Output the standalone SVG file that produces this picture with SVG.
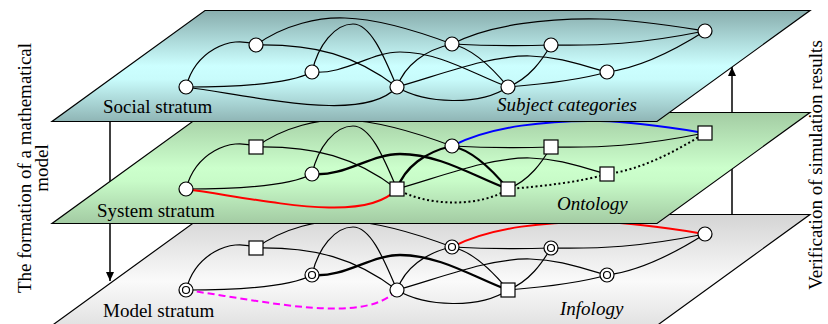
<svg xmlns="http://www.w3.org/2000/svg" width="828" height="324" viewBox="0 0 828 324">
<style>
.plane{stroke:#000;stroke-width:1.2}
.e{fill:none;stroke:#000;stroke-width:1.2}
.b{fill:none;stroke:#000;stroke-width:2.3}
.red{fill:none;stroke:#f00;stroke-width:2}
.blue{fill:none;stroke:#00f;stroke-width:2}
.dot{fill:none;stroke:#000;stroke-width:2;stroke-dasharray:2 2.6}
.mag{fill:none;stroke:#f0f;stroke-width:2;stroke-dasharray:7 4}
.n{fill:#fff;stroke:#000;stroke-width:1.2}
.t{font-family:"Liberation Serif","Times New Roman",serif;font-size:19px;fill:#000}
.i{font-style:italic}
.arr{stroke:#000;stroke-width:1.5}
</style>
<defs>
<linearGradient id="gSocial" x1="0" y1="0" x2="0" y2="1">
<stop offset="0" stop-color="#88adad"/>
<stop offset="0.5" stop-color="#ccffff"/>
<stop offset="0.62" stop-color="#c8fbfb"/>
<stop offset="1" stop-color="#8fb5b5"/>
</linearGradient>
<linearGradient id="gSystem" x1="0" y1="0" x2="0" y2="1">
<stop offset="0" stop-color="#a3cca3"/>
<stop offset="0.5" stop-color="#ccffcc"/>
<stop offset="0.62" stop-color="#c8fbc8"/>
<stop offset="1" stop-color="#a3cba3"/>
</linearGradient>
<linearGradient id="gModel" x1="0" y1="0" x2="0" y2="1">
<stop offset="0" stop-color="#d4d4d4"/>
<stop offset="0.6" stop-color="#fafafa"/>
<stop offset="1" stop-color="#e2e2e2"/>
</linearGradient>
<marker id="ah" markerUnits="userSpaceOnUse" markerWidth="10" markerHeight="9" refX="9" refY="4" orient="auto">
<path d="M0,0 L9,4 L0,8 z" fill="#000"/>
</marker>
</defs>

<g id="process-arrows">
<line class="arr" x1="110" y1="121" x2="110" y2="281" marker-end="url(#ah)"/>
<line class="arr" x1="732" y1="270" x2="732" y2="67" marker-end="url(#ah)"/>
</g>

<!-- Model stratum -->
<g id="model-plane"><polygon class="plane" fill="url(#gModel)" points="205,214.5 810,214.5 657,325.5 52,325.5"/></g>
<g transform="translate(0,203)">
<g id="model-connectors">
<path class="e" d="M186,87 C195,52 230,34 256,45"/>
<path class="e" d="M186,87 C240,87 290,84 312,72"/>
<path class="mag" d="M186,87 C270,99 365,122 397,87"/>
<path class="e" d="M256,45 C285,24 320,17 345,18 C380,19 420,32 452,44"/>
<path class="e" d="M256,45 C315,44 355,55 397,87"/>
<path class="e" d="M312,72 C318,45 335,24 353,24 C372,24 386,62 397,87"/>
<path class="b" d="M312,72 C345,75 370,52 400,52 C440,52 475,75 508,87"/>
<path class="e" d="M397,87 C405,65 425,50 452,44"/>
<path class="e" d="M397,87 C440,75 490,55 530,56 C565,57 585,67 607,72"/>
<path class="e" d="M397,87 C425,104 480,106 508,87"/>
<path class="e" d="M452,44 C490,46 520,46 551,45"/>
<path class="red" d="M452,44 C490,24 550,18 600,19 C640,20 680,27 705,31"/>
<path class="e" d="M452,44 C470,48 490,65 508,87"/>
<path class="e" d="M551,45 C542,60 530,78 508,87"/>
<path class="e" d="M551,45 C600,46 640,44 705,31"/>
<path class="e" d="M508,87 C545,84 580,80 607,72"/>
<path class="e" d="M607,72 C640,68 675,50 705,31"/>
</g>
<g id="model-A"><circle class="n" cx="186" cy="87" r="7"/><circle class="n" cx="186" cy="87" r="3.5"/></g>
<g id="model-B"><rect class="n" x="249" y="38" width="14" height="14"/></g>
<g id="model-C"><circle class="n" cx="312" cy="72" r="7"/><circle class="n" cx="312" cy="72" r="3.5"/></g>
<g id="model-D"><circle class="n" cx="397" cy="87" r="7"/></g>
<g id="model-E"><circle class="n" cx="452" cy="44" r="7"/><circle class="n" cx="452" cy="44" r="3.5"/></g>
<g id="model-F"><circle class="n" cx="551" cy="45" r="7"/><circle class="n" cx="551" cy="45" r="3.5"/></g>
<g id="model-G"><circle class="n" cx="705" cy="31" r="7"/></g>
<g id="model-H"><circle class="n" cx="607" cy="72" r="7"/><circle class="n" cx="607" cy="72" r="3.5"/></g>
<g id="model-I"><rect class="n" x="501" y="80" width="14" height="14"/></g>
</g>
<text class="t" x="103" y="317">Model stratum</text>
<text class="t i" x="560" y="315">Infology</text>

<!-- System stratum -->
<g id="system-plane"><polygon class="plane" fill="url(#gSystem)" points="205,112.5 810,112.5 657,223.5 52,223.5"/></g>
<g transform="translate(0,102)">
<g id="system-connectors">
<path class="e" d="M186,87 C195,52 230,34 256,45"/>
<path class="e" d="M186,87 C240,87 290,84 312,72"/>
<path class="red" d="M186,87 C270,99 365,122 397,87"/>
<path class="e" d="M256,45 C285,24 320,17 345,18 C380,19 420,32 452,44"/>
<path class="e" d="M256,45 C315,44 355,55 397,87"/>
<path class="e" d="M312,72 C318,45 335,24 353,24 C372,24 386,62 397,87"/>
<path class="b" d="M312,72 C345,75 370,52 400,52 C440,52 475,75 508,87"/>
<path class="b" d="M397,87 C405,65 425,50 452,44"/>
<path class="e" d="M397,87 C440,75 490,55 530,56 C565,57 585,67 607,72"/>
<path class="dot" d="M397,87 C425,104 480,106 508,87"/>
<path class="e" d="M452,44 C490,46 520,46 551,45"/>
<path class="blue" d="M452,44 C490,24 550,18 600,19 C640,20 680,27 705,31"/>
<path class="b" d="M452,44 C470,48 490,65 508,87"/>
<path class="e" d="M551,45 C542,60 530,78 508,87"/>
<path class="e" d="M551,45 C600,46 640,44 705,31"/>
<path class="dot" d="M508,87 C545,84 580,80 607,72"/>
<path class="dot" d="M607,72 C640,68 675,50 705,31"/>
</g>
<g id="system-A"><circle class="n" cx="186" cy="87" r="7"/></g>
<g id="system-B"><rect class="n" x="249" y="38" width="14" height="14"/></g>
<g id="system-C"><circle class="n" cx="312" cy="72" r="7"/></g>
<g id="system-D"><rect class="n" x="390" y="80" width="14" height="14"/></g>
<g id="system-E"><circle class="n" cx="452" cy="44" r="7"/></g>
<g id="system-F"><rect class="n" x="544" y="38" width="14" height="14"/></g>
<g id="system-G"><rect class="n" x="698" y="24" width="14" height="14"/></g>
<g id="system-H"><rect class="n" x="600" y="65" width="14" height="14"/></g>
<g id="system-I"><rect class="n" x="501" y="80" width="14" height="14"/></g>
</g>
<text class="t" x="97" y="217">System stratum</text>
<text class="t i" x="557" y="210">Ontology</text>

<!-- Social stratum -->
<g id="social-plane"><polygon class="plane" fill="url(#gSocial)" points="205,10.5 810,10.5 657,121.5 52,121.5"/></g>
<g id="social-connectors">
<path class="e" d="M186,87 C195,52 230,34 256,45"/>
<path class="e" d="M186,87 C240,87 290,84 312,72"/>
<path class="e" d="M186,87 C270,99 365,122 397,87"/>
<path class="e" d="M256,45 C285,24 320,17 345,18 C380,19 420,32 452,44"/>
<path class="e" d="M256,45 C315,44 355,55 397,87"/>
<path class="e" d="M312,72 C318,45 335,24 353,24 C372,24 386,62 397,87"/>
<path class="e" d="M312,72 C345,75 370,52 400,52 C440,52 475,75 508,87"/>
<path class="e" d="M397,87 C405,65 425,50 452,44"/>
<path class="e" d="M397,87 C440,75 490,55 530,56 C565,57 585,67 607,72"/>
<path class="e" d="M397,87 C425,104 480,106 508,87"/>
<path class="e" d="M452,44 C490,46 520,46 551,45"/>
<path class="e" d="M452,44 C490,24 550,18 600,19 C640,20 680,27 705,31"/>
<path class="e" d="M452,44 C470,48 490,65 508,87"/>
<path class="e" d="M551,45 C542,60 530,78 508,87"/>
<path class="e" d="M551,45 C600,46 640,44 705,31"/>
<path class="e" d="M508,87 C545,84 580,80 607,72"/>
<path class="e" d="M607,72 C640,68 675,50 705,31"/>
</g>
<g id="social-A"><circle class="n" cx="186" cy="87" r="7"/></g>
<g id="social-B"><circle class="n" cx="256" cy="45" r="7"/></g>
<g id="social-C"><circle class="n" cx="312" cy="72" r="7"/></g>
<g id="social-D"><circle class="n" cx="397" cy="87" r="7"/></g>
<g id="social-E"><circle class="n" cx="452" cy="44" r="7"/></g>
<g id="social-F"><circle class="n" cx="551" cy="45" r="7"/></g>
<g id="social-G"><circle class="n" cx="705" cy="31" r="7"/></g>
<g id="social-H"><circle class="n" cx="607" cy="72" r="7"/></g>
<g id="social-I"><circle class="n" cx="508" cy="87" r="7"/></g>
<text class="t" x="103" y="113">Social stratum</text>
<text class="t i" x="497" y="111">Subject categories</text>

<!-- side captions -->
<text class="t" text-anchor="middle" transform="translate(31,168) rotate(-90)">The formation of a mathematical<tspan x="0" dy="17">model</tspan></text>
<text class="t" text-anchor="middle" transform="translate(822,165) rotate(-90)">Verification of simulation results</text>
</svg>
